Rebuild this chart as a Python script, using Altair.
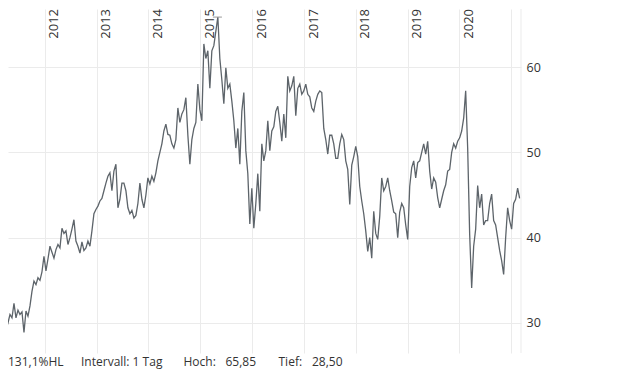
import altair as alt
import pandas as pd

# Daily closing prices at a regular two-week grid
prices = [
    29.2, 28.6, 29.6, 30.4, 30.0, 31.0, 30.6, 32.3, 30.6, 31.5,
    31.0, 31.3, 28.9, 31.4, 30.8, 32.0, 33.7, 34.9, 34.5, 35.3,
    35.0, 36.0, 37.8, 36.1, 37.5, 39.0, 38.3, 37.6, 38.6, 39.2,
    38.8, 41.1, 40.5, 40.8, 39.2, 40.0, 41.0, 42.1, 39.6, 39.0,
    38.2, 39.5, 38.5, 38.8, 39.6, 39.0, 40.8, 42.8, 43.3, 43.7,
    44.3, 44.6, 45.5, 46.4, 47.2, 47.6, 45.5, 47.8, 48.6, 43.5,
    44.5, 46.4, 46.4, 45.5, 43.5, 42.8, 43.2, 42.3, 42.6, 44.0,
    46.4, 44.5, 43.5, 45.0, 47.0, 46.3, 47.2, 46.6, 47.6, 49.0,
    50.0, 51.0, 52.5, 53.3, 52.1, 52.0, 51.0, 50.5, 51.5, 55.2,
    53.5, 54.5, 55.0, 56.4, 52.0, 48.6, 51.5, 52.8, 53.5, 58.0,
    55.0, 53.7, 62.7, 61.0, 61.9, 57.5, 61.9, 62.5, 64.2, 65.85,
    61.0, 58.5, 55.7, 59.9, 57.5, 58.0, 56.0, 53.7, 50.5, 52.8,
    48.6, 54.8, 57.0, 50.2, 47.5, 41.6, 45.8, 41.1, 44.0, 47.5,
    43.1, 51.0, 49.0, 50.2, 53.7, 50.2, 52.5, 53.0, 54.8, 55.4,
    53.5, 51.3, 54.5, 51.7, 58.9, 57.2, 57.8, 58.9, 54.3, 57.5,
    58.0, 56.8, 57.2, 58.0, 56.8, 56.5, 55.2, 54.8, 56.0, 56.8,
    57.2, 57.0, 52.8, 51.5, 49.8, 52.0, 52.0, 51.0, 49.3, 49.3,
    51.0, 52.1, 51.5, 49.0, 48.0, 43.9, 48.5, 49.5, 50.7, 49.5,
    46.0, 44.3, 42.8, 40.8, 38.4, 40.0, 37.6, 43.1, 40.5, 39.8,
    42.5, 47.0, 45.5, 46.0, 47.0, 45.5, 44.3, 43.0, 42.8, 40.0,
    43.0, 44.0, 43.5, 41.5, 39.8, 46.0, 48.2, 49.0, 47.0, 48.8,
    49.0, 50.0, 51.0, 49.8, 51.3, 47.8, 45.7, 47.0, 46.5, 44.7,
    43.5, 44.5, 45.5, 46.2, 47.8, 48.0, 50.0, 51.0, 50.5, 51.3,
    51.7, 52.5, 54.0, 57.2, 50.5, 40.4, 34.1, 39.0, 41.0, 46.1,
    43.5, 45.1, 41.5, 42.0, 42.0, 44.0, 45.1, 42.0, 41.5, 40.0,
    38.5, 37.3, 35.7, 40.0, 43.5, 42.0, 41.0, 44.0, 44.5, 45.8,
    44.6,
]
start_date = "2011-02-20"
sample_step = "338h"

label_years = [2012, 2013, 2014, 2015, 2016, 2017, 2018, 2019, 2020]
grid_years = [2012, 2013, 2014, 2015, 2016, 2017, 2018, 2019, 2020, 2021]
y_ticks = [30, 40, 50, 60]

high_value = 65.85
high_from = "2015-03-31"
high_to = "2015-06-03"

footer_texts = ["131,1%HL", "Intervall: 1 Tag", "Hoch:", "65,85", "Tief:", "28,50"]

W, H = 513, 344
FONT = "Open Sans"
TXT = "#333333"
GRID = "#ebebeb"
LINE = "#5d646a"

df = pd.DataFrame({
    "date": pd.date_range(start_date, periods=len(prices), freq=sample_step),
    "price": prices,
})
years_df = pd.DataFrame({
    "date": pd.to_datetime([f"{y}-01-01" for y in label_years]),
    "label": [str(y) for y in label_years],
})
high_df = pd.DataFrame({
    "date": pd.to_datetime([high_from]),
    "d2": pd.to_datetime([high_to]),
    "price": [high_value],
})
one_row = pd.DataFrame({"k": [0]})

x_scale = alt.Scale(domain=[
    alt.DateTime(year=2011, month=4, date=17, hours=10),
    alt.DateTime(year=2021, month=3, date=10, hours=7),
])
y_scale = alt.Scale(domain=[26.484, 66.797], nice=False, zero=False)

x_axis = alt.Axis(
    values=[alt.DateTime(year=y, month=1, date=1) for y in grid_years],
    labels=False, ticks=False, domain=False, grid=True,
    gridColor=GRID, gridWidth=1, title=None,
)
y_axis = alt.Axis(
    orient="right", values=y_ticks, ticks=False, domain=False, grid=True,
    gridColor=GRID, gridWidth=1, title=None, labelFont=FONT,
    labelFontSize=12.5, labelColor=TXT, labelPadding=5,
)

X = alt.X("date:T", scale=x_scale, axis=x_axis)
Y = alt.Y("price:Q", scale=y_scale, axis=y_axis)

line = alt.Chart(df).mark_line(color=LINE, strokeWidth=1.3, clip=True).encode(
    x=X, y=Y,
)

right_edge = alt.Chart(one_row).mark_rule(color=GRID, strokeWidth=1).encode(
    x=alt.value(W), y=alt.value(0), y2=alt.value(H)
)

high_mark = alt.Chart(high_df).mark_rule(color="#9a9a9a", strokeWidth=1).encode(
    x=X, x2="d2:T", y=Y,
)

year_labels = alt.Chart(years_df).mark_text(
    angle=270, align="right", baseline="middle", dy=9.6,
    font=FONT, fontSize=13, color=TXT,
).encode(
    x=X,
    y=alt.value(0),
    text="label:N",
)

footer_x = [0, 73, 175.5, 217.5, 270.5, 304]
footer_layers = [
    alt.Chart(one_row).mark_text(
        align="left", baseline="alphabetic", font=FONT, fontSize=12, color=TXT
    ).encode(x=alt.value(fx), y=alt.value(357), text=alt.value(t))
    for t, fx in zip(footer_texts, footer_x)
]

chart = alt.layer(
    line, right_edge, high_mark, year_labels, *footer_layers
).properties(
    width=W, height=H, background="white",
    padding={"left": 0, "top": 0, "right": 4, "bottom": 5},
).configure_view(stroke=None)

chart.save("out.html", embed_options={"renderer": "svg", "actions": False})
